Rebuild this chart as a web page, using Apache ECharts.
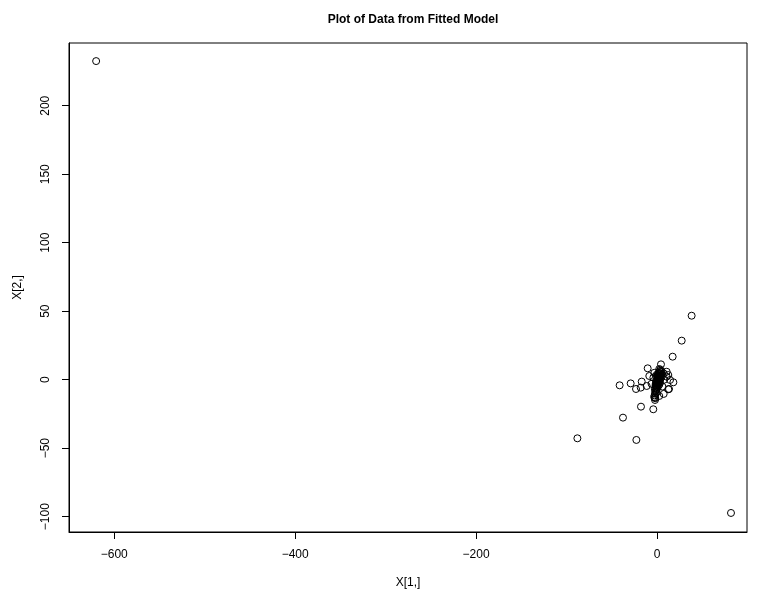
<!DOCTYPE html>
<html><head><meta charset="utf-8">
<script src="https://cdn.jsdelivr.net/npm/echarts@6/dist/echarts.min.js"></script>
<style>html,body{margin:0;padding:0;background:#fff}#c{width:777px;height:596px}</style>
</head><body><div id="c"></div>
<script>
// Outlying points [X1, X2]
const outerX = [-620, 81.8, 38.3, 27.3, 17.3, 4.4, -10.3, -8.5, -16.9, -29.1, -41.3, -23.2, -18, 18.1, 13.3, 7.4, -2.2, -17.7, -4.1, -37.6, -88, -22.8, 10.7, 10.7, -11.4, 12.5, 14.4, 12.5, 2.5, -2.2, -6, -4, 6, 8, -3, 7.5];
const outerY = [232.6, -97.3, 46.7, 28.5, 16.8, 11.2, 8.3, 2.7, -1.4, -2.7, -4.1, -6.8, -5.8, -1.9, -6.8, -10.4, -13.1, -19.7, -21.6, -27.7, -42.8, -44, 5.8, 2.2, -4.6, 3.4, -0.2, -7.0, -11.9, -14.8, -3, 1.5, -5, 0, 5, 4.5];
// Dense cluster near the origin
const clusterX = [0.5, 1.2, -0.8, 2.1, 1.8, -1.5, 0.2, 3.0, 2.6, -0.4, 1.0, 0.7, -2.1, 1.5, 2.9, 0.1, -1.1, 3.4, 1.9, 0.9, -0.6, 2.3, 4.1, 1.4, -1.8, 0.3, 2.7, 1.1, -0.2, 3.6, 0.8, -1.3, 2.0, 4.5, 1.6, -0.9, 0.6, 2.4, 3.2, -2.6, 1.3, 0.0, 2.2, 5.0, -1.6, 0.4, 3.8, 1.7, -0.5, 2.5, -3.1, -2.4, -1.0, 4.8, 3.3, 5.5, -0.3, 1.9, 2.8, -1.9];
const clusterY = [-1.2, 0.8, -4.5, 2.4, -0.3, -6.2, -2.8, 4.6, 1.9, -3.9, -0.9, 1.5, -8.7, 3.2, 6.1, -0.4, -5.1, 2.8, 0.6, -2.2, -1.8, 3.9, 5.4, -1.6, -10.2, 0.9, 0.2, 2.3, -6.8, 7.2, -3.4, -2.9, 5.1, 3.1, -2.5, -7.6, -0.1, -1.1, 1.2, -11.4, 4.4, -5.3, -0.7, 6.3, -4.0, 2.9, 0.4, 1.0, -9.4, 7.8, -12.6, -6.6, -0.6, 1.8, -2.0, 4.2, 3.6, -4.3, -3.2, -13.5];
const xTicks = [-600, -400, -200, 0];
const yTicks = [-100, -50, 0, 50, 100, 150, 200];

const pts = [];
outerX.forEach((v, i) => pts.push([v, outerY[i]]));
clusterX.forEach((v, i) => pts.push([v, clusterY[i]]));

const font = 'Liberation Sans, Arial, Helvetica, sans-serif';
const chart = echarts.init(document.getElementById('c'), null, {renderer: 'canvas'});
chart.setOption({
  animation: false,
  backgroundColor: '#fff',
  title: {
    text: 'Plot of Data from Fitted Model',
    left: 408, top: 9, textAlign: 'center',
    textStyle: {fontFamily: font, fontSize: 12, fontWeight: 'bold', color: '#000'}
  },
  grid: {left: 69, right: 30, top: 43, bottom: 64, show: true, borderColor: '#000', borderWidth: 1, backgroundColor: 'transparent'},
  xAxis: {
    type: 'value', min: -650, max: 99.5,
    name: 'X[1,]', nameLocation: 'middle', nameGap: 45,
    nameTextStyle: {fontFamily: font, fontSize: 12, color: '#000'},
    axisLine: {show: true, onZero: false, lineStyle: {color: '#000', width: 1}},
    splitLine: {show: false},
    axisTick: {show: true, inside: false, length: 7, customValues: xTicks, lineStyle: {color: '#000'}},
    axisLabel: {customValues: xTicks, margin: 17, fontFamily: font, fontSize: 12, color: '#000',
      formatter: v => String(v).replace('-', '\u2212')}
  },
  yAxis: {
    type: 'value', min: -111.2, max: 245.8,
    name: 'X[2,]', nameLocation: 'middle', nameGap: 45,
    nameTextStyle: {fontFamily: font, fontSize: 12, color: '#000'},
    axisLine: {show: true, onZero: false, lineStyle: {color: '#000', width: 1}},
    splitLine: {show: false},
    axisTick: {show: true, inside: false, length: 7, customValues: yTicks, lineStyle: {color: '#000'}},
    axisLabel: {customValues: yTicks, rotate: 90, margin: 17, fontFamily: font, fontSize: 12, color: '#000',
      formatter: v => String(v).replace('-', '\u2212')}
  },
  series: [{
    type: 'scatter',
    data: pts,
    symbol: 'circle',
    symbolSize: 7,
    itemStyle: {color: 'rgba(0,0,0,0)', borderColor: '#000', borderWidth: 1, opacity: 1},
    emphasis: {disabled: true}
  }]
});
</script></body></html>
